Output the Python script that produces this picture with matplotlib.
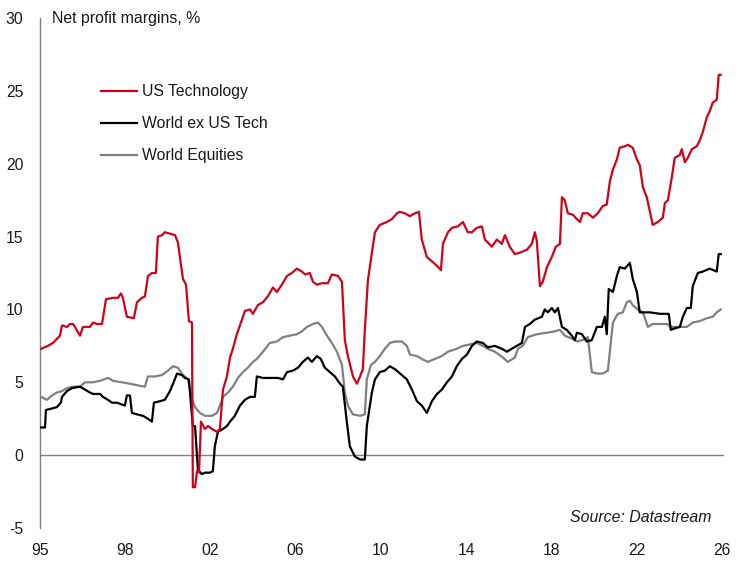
import matplotlib.pyplot as plt
import numpy as np

# US Technology net profit margin, %
us_tech_x = [1995.05, 1995.36, 1995.59, 1995.91, 1996.00, 1996.23, 1996.36, 1996.50, 1996.59, 1996.82,
             1996.95, 1997.27, 1997.41, 1997.59, 1997.82, 1998.00, 1998.32, 1998.55, 1998.68, 1998.77,
             1998.95, 1999.27, 1999.41, 1999.64, 1999.77, 1999.91, 2000.09, 2000.27, 2000.36, 2000.55,
             2000.68, 2000.91, 2001.14, 2001.27, 2001.50, 2001.64, 2001.77, 2001.91, 2001.95, 2002.05,
             2002.14, 2002.23, 2002.32, 2002.50, 2002.64, 2002.82, 2003.05, 2003.18, 2003.32, 2003.50,
             2003.64, 2003.77, 2003.95, 2004.09, 2004.32, 2004.55, 2004.68, 2004.91, 2005.14, 2005.36,
             2005.59, 2005.77, 2006.00, 2006.23, 2006.45, 2006.68, 2006.91, 2007.05, 2007.27, 2007.41,
             2007.59, 2007.82, 2008.09, 2008.27, 2008.55, 2008.73, 2008.86, 2009.00, 2009.23, 2009.41,
             2009.55, 2009.68, 2009.77, 2009.91, 2010.09, 2010.23, 2010.45, 2010.77, 2011.00, 2011.23,
             2011.36, 2011.59, 2011.82, 2012.05, 2012.23, 2012.36, 2012.59, 2012.82, 2013.05, 2013.23,
             2013.32, 2013.55, 2013.73, 2014.00, 2014.23, 2014.45, 2014.64, 2014.86, 2015.09, 2015.23,
             2015.36, 2015.55, 2015.77, 2016.00, 2016.14, 2016.36, 2016.59, 2016.82, 2017.14, 2017.36,
             2017.50, 2017.59, 2017.73, 2017.86, 2018.05, 2018.27, 2018.45, 2018.64, 2018.73, 2018.86,
             2019.00, 2019.23, 2019.41, 2019.55, 2019.68, 2019.91, 2020.14, 2020.36, 2020.59, 2020.77,
             2020.91, 2021.05, 2021.23, 2021.36, 2021.59, 2021.73, 2021.95, 2022.14, 2022.27, 2022.41,
             2022.59, 2022.73, 2022.86, 2023.09, 2023.32, 2023.41, 2023.55, 2023.73, 2023.86, 2024.09,
             2024.18, 2024.32, 2024.45, 2024.64, 2024.86, 2025.00, 2025.14, 2025.32, 2025.45, 2025.59,
             2025.77, 2025.86, 2025.95]
us_tech = [7.3, 7.5, 7.7, 8.2, 8.9, 8.8, 9.0, 9.0, 8.8, 8.2,
           8.8, 8.8, 9.1, 9.0, 9.0, 10.7, 10.8, 10.8, 11.1, 10.8,
           9.5, 9.4, 10.5, 10.8, 10.9, 12.3, 12.5, 12.5, 15.0, 15.1,
           15.3, 15.2, 15.1, 14.6, 12.1, 11.7, 9.2, 9.1, -2.2, -2.2,
           -1.1, -1.2, 2.3, 1.8, 2.0, 1.8, 1.6, 1.8, 4.5, 5.4,
           6.7, 7.3, 8.3, 8.9, 9.9, 10.0, 9.7, 10.3, 10.5, 10.9,
           11.5, 11.2, 11.7, 12.3, 12.5, 12.8, 12.6, 12.4, 12.5, 11.9,
           11.7, 11.8, 11.8, 12.4, 12.3, 11.9, 7.9, 6.8, 5.4, 4.9,
           5.4, 5.9, 8.6, 12.0, 13.9, 15.3, 15.8, 16.0, 16.2, 16.6,
           16.7, 16.6, 16.4, 16.6, 16.7, 14.8, 13.6, 13.3, 13.0, 12.7,
           14.5, 15.3, 15.6, 15.7, 16.0, 15.3, 15.3, 15.6, 15.7, 14.8,
           14.6, 14.3, 14.8, 14.5, 15.1, 14.3, 13.8, 13.9, 14.1, 14.5,
           15.3, 14.7, 11.6, 11.9, 12.9, 13.6, 14.3, 14.5, 17.7, 17.5,
           16.6, 16.5, 16.2, 16.0, 16.6, 16.6, 16.3, 16.6, 17.1, 17.2,
           18.8, 19.6, 20.3, 21.1, 21.2, 21.3, 21.1, 20.3, 19.9, 18.4,
           17.7, 16.7, 15.8, 16.0, 16.3, 17.3, 17.5, 19.1, 20.4, 20.6,
           21.0, 20.1, 20.4, 21.0, 21.2, 21.6, 22.2, 23.2, 23.6, 24.2,
           24.4, 26.1, 26.1]

# World ex US Tech
world_ex_x = [1995.05, 1995.23, 1995.27, 1995.55, 1995.77, 1995.95, 1996.00, 1996.23, 1996.45, 1996.82,
              1997.05, 1997.27, 1997.41, 1997.73, 1997.86, 1998.09, 1998.27, 1998.50, 1998.86, 1998.95,
              1999.09, 1999.18, 1999.41, 1999.68, 1999.91, 2000.09, 2000.18, 2000.45, 2000.68, 2000.91,
              2001.05, 2001.23, 2001.45, 2001.59, 2001.77, 2001.95, 2002.05, 2002.18, 2002.36, 2002.50,
              2002.73, 2002.86, 2002.95, 2003.09, 2003.32, 2003.50, 2003.64, 2003.86, 2004.09, 2004.32,
              2004.55, 2004.77, 2004.86, 2005.14, 2005.45, 2005.82, 2006.05, 2006.23, 2006.50, 2006.73,
              2006.95, 2007.18, 2007.36, 2007.59, 2007.77, 2007.95, 2008.18, 2008.41, 2008.64, 2008.77,
              2008.95, 2009.09, 2009.32, 2009.55, 2009.77, 2009.86, 2010.09, 2010.23, 2010.45, 2010.68,
              2010.91, 2011.14, 2011.45, 2011.68, 2011.91, 2012.14, 2012.36, 2012.59, 2012.82, 2013.05,
              2013.27, 2013.50, 2013.73, 2013.95, 2014.18, 2014.41, 2014.64, 2014.86, 2015.14, 2015.36,
              2015.68, 2016.00, 2016.23, 2016.45, 2016.68, 2016.91, 2017.05, 2017.27, 2017.50, 2017.82,
              2017.95, 2018.09, 2018.27, 2018.41, 2018.55, 2018.73, 2018.95, 2019.18, 2019.32, 2019.41,
              2019.64, 2019.86, 2020.09, 2020.32, 2020.55, 2020.68, 2020.77, 2020.86, 2021.05, 2021.23,
              2021.36, 2021.59, 2021.82, 2021.95, 2022.14, 2022.27, 2022.73, 2023.18, 2023.59, 2023.68,
              2023.86, 2024.09, 2024.23, 2024.41, 2024.59, 2024.68, 2024.91, 2025.14, 2025.45, 2025.77,
              2025.86, 2025.95]
world_ex = [1.9, 1.9, 3.1, 3.2, 3.3, 3.6, 4.0, 4.4, 4.6, 4.7,
            4.5, 4.3, 4.2, 4.2, 4.0, 3.8, 3.6, 3.6, 3.4, 4.1,
            4.1, 2.9, 2.8, 2.7, 2.5, 2.3, 3.6, 3.7, 3.8, 4.4,
            4.9, 5.6, 5.5, 5.3, 5.2, 2.0, 2.0, -1.0, -1.3, -1.2,
            -1.2, -1.1, 0.6, 1.6, 1.8, 2.0, 2.3, 2.7, 3.4, 3.8,
            4.0, 4.0, 5.4, 5.3, 5.3, 5.3, 5.2, 5.7, 5.8, 6.0,
            6.4, 6.7, 6.4, 6.8, 6.6, 6.0, 5.7, 5.4, 4.9, 4.7,
            2.3, 0.6, -0.1, -0.3, -0.3, 2.0, 4.3, 5.2, 5.7, 5.8,
            6.1, 5.9, 5.5, 5.2, 4.5, 3.7, 3.4, 2.9, 3.7, 4.2,
            4.5, 5.0, 5.4, 6.1, 6.6, 6.9, 7.5, 7.8, 7.7, 7.4,
            7.5, 7.3, 7.1, 7.3, 7.5, 7.7, 8.8, 9.0, 9.3, 9.5,
            10.0, 9.8, 10.1, 9.8, 10.1, 8.8, 8.6, 8.2, 7.9, 8.4,
            8.3, 7.8, 7.9, 8.8, 8.8, 9.5, 8.3, 11.4, 11.2, 12.3,
            12.9, 12.8, 13.2, 12.1, 11.2, 9.8, 9.8, 9.7, 9.7, 8.6,
            8.7, 8.8, 9.5, 10.1, 10.1, 11.6, 12.5, 12.6, 12.8, 12.6,
            13.8, 13.8]

# World Equities
world_x = [1995.05, 1995.32, 1995.55, 1995.77, 1996.00, 1996.23, 1996.50, 1996.82, 1997.05, 1997.41,
           1997.73, 1998.09, 1998.32, 1998.73, 1999.09, 1999.41, 1999.77, 1999.91, 2000.23, 2000.55,
           2000.82, 2001.05, 2001.27, 2001.50, 2001.73, 2001.91, 2002.05, 2002.27, 2002.50, 2002.82,
           2003.05, 2003.18, 2003.32, 2003.55, 2003.77, 2004.00, 2004.23, 2004.45, 2004.68, 2004.86,
           2005.14, 2005.45, 2005.77, 2006.05, 2006.36, 2006.68, 2006.91, 2007.14, 2007.41, 2007.64,
           2007.82, 2008.05, 2008.27, 2008.50, 2008.73, 2008.86, 2009.00, 2009.23, 2009.55, 2009.77,
           2009.86, 2010.05, 2010.23, 2010.45, 2010.68, 2010.91, 2011.14, 2011.45, 2011.68, 2011.82,
           2012.14, 2012.36, 2012.64, 2012.95, 2013.27, 2013.55, 2013.95, 2014.23, 2014.55, 2014.86,
           2015.14, 2015.36, 2015.68, 2016.05, 2016.27, 2016.59, 2016.73, 2016.95, 2017.18, 2017.59,
           2018.05, 2018.41, 2018.64, 2018.86, 2019.18, 2019.41, 2019.68, 2019.91, 2020.09, 2020.32,
           2020.59, 2020.82, 2021.05, 2021.27, 2021.50, 2021.68, 2021.82, 2021.95, 2022.18, 2022.41,
           2022.64, 2022.86, 2023.18, 2023.50, 2023.73, 2024.09, 2024.41, 2024.68, 2025.00, 2025.32,
           2025.59, 2025.77, 2025.95]
world = [4.0, 3.8, 4.1, 4.3, 4.4, 4.6, 4.7, 4.7, 5.0, 5.0,
         5.1, 5.3, 5.1, 5.0, 4.9, 4.8, 4.7, 5.4, 5.4, 5.5,
         5.8, 6.1, 6.0, 5.5, 5.2, 3.8, 3.3, 2.9, 2.7, 2.7,
         2.9, 3.4, 4.0, 4.3, 4.7, 5.3, 5.7, 6.0, 6.4, 6.6,
         7.1, 7.7, 7.8, 8.1, 8.2, 8.3, 8.5, 8.8, 9.0, 9.1,
         8.8, 8.2, 7.7, 7.1, 6.2, 4.3, 3.4, 2.8, 2.7, 2.8,
         5.2, 6.2, 6.4, 6.8, 7.3, 7.7, 7.8, 7.8, 7.5, 6.9,
         6.8, 6.6, 6.4, 6.6, 6.8, 7.1, 7.3, 7.5, 7.6, 7.7,
         7.5, 7.3, 7.1, 6.7, 6.4, 6.7, 7.3, 7.5, 8.1, 8.3,
         8.4, 8.5, 8.6, 8.2, 8.0, 7.8, 7.9, 8.1, 5.7, 5.6,
         5.6, 5.8, 9.1, 9.7, 9.8, 10.5, 10.6, 10.3, 10.0, 9.8,
         8.8, 9.0, 9.0, 9.0, 8.8, 8.8, 8.8, 9.1, 9.2, 9.4,
         9.5, 9.8, 10.0]

tick_labels = ["95", "98", "02", "06", "10", "14", "18", "22", "26"]
y_ticks = [-5, 0, 5, 10, 15, 20, 25, 30]

RED = "#d0021b"
GREY = "#808080"

plt.rcParams['font.family'] = ['Liberation Sans', 'DejaVu Sans']
plt.rcParams['axes.unicode_minus'] = False

fig = plt.figure(figsize=(7.39, 5.72), dpi=100)
ax = fig.add_axes([0.0541, 0.0769, 0.9256, 0.8916])

ax.axhline(0, color=GREY, linewidth=1, zorder=1)
ax.plot(world_x, world, color=GREY, linewidth=1.6, label="World Equities", zorder=2)
ax.plot(world_ex_x, world_ex, color="black", linewidth=1.6, label="World ex US Tech", zorder=3)
ax.plot(us_tech_x, us_tech, color=RED, linewidth=1.6, label="US Technology", zorder=4)

ax.set_xlim(1995, 2026.1)
ax.set_ylim(-5, 30)
ax.set_xticks(np.linspace(1995, 2026, len(tick_labels)))
ax.set_xticklabels(tick_labels)
ax.set_yticks(y_ticks)
ax.tick_params(axis='both', length=0, labelsize=11.3, colors='#1a1a1a')
ax.tick_params(axis='y', pad=12)
ax.tick_params(axis='x', pad=11)

for s in ['top', 'right', 'bottom']:
    ax.spines[s].set_visible(False)
ax.spines['left'].set_color(GREY)
ax.spines['left'].set_linewidth(1)

ax.text(0.018, 1.0, "Net profit margins, %", transform=ax.transAxes, fontsize=11.4,
        va='center', ha='left', color='#1a1a1a')
ax.text(0.981, 0.02, "Source: Datastream", transform=ax.transAxes, fontsize=11.4,
        va='center', ha='right', style='italic', color='#1a1a1a')

h, l = ax.get_legend_handles_labels()
order = [2, 1, 0]
leg = ax.legend([h[i] for i in order], [l[i] for i in order], loc='upper left',
                bbox_to_anchor=(0.089, 0.87), frameon=False, fontsize=11.3,
                handlelength=2.3, handletextpad=0.3, labelspacing=1.08, borderpad=0,
                borderaxespad=0)
for t in leg.get_texts():
    t.set_color('#1a1a1a')

fig.savefig("out.png", dpi=100)
